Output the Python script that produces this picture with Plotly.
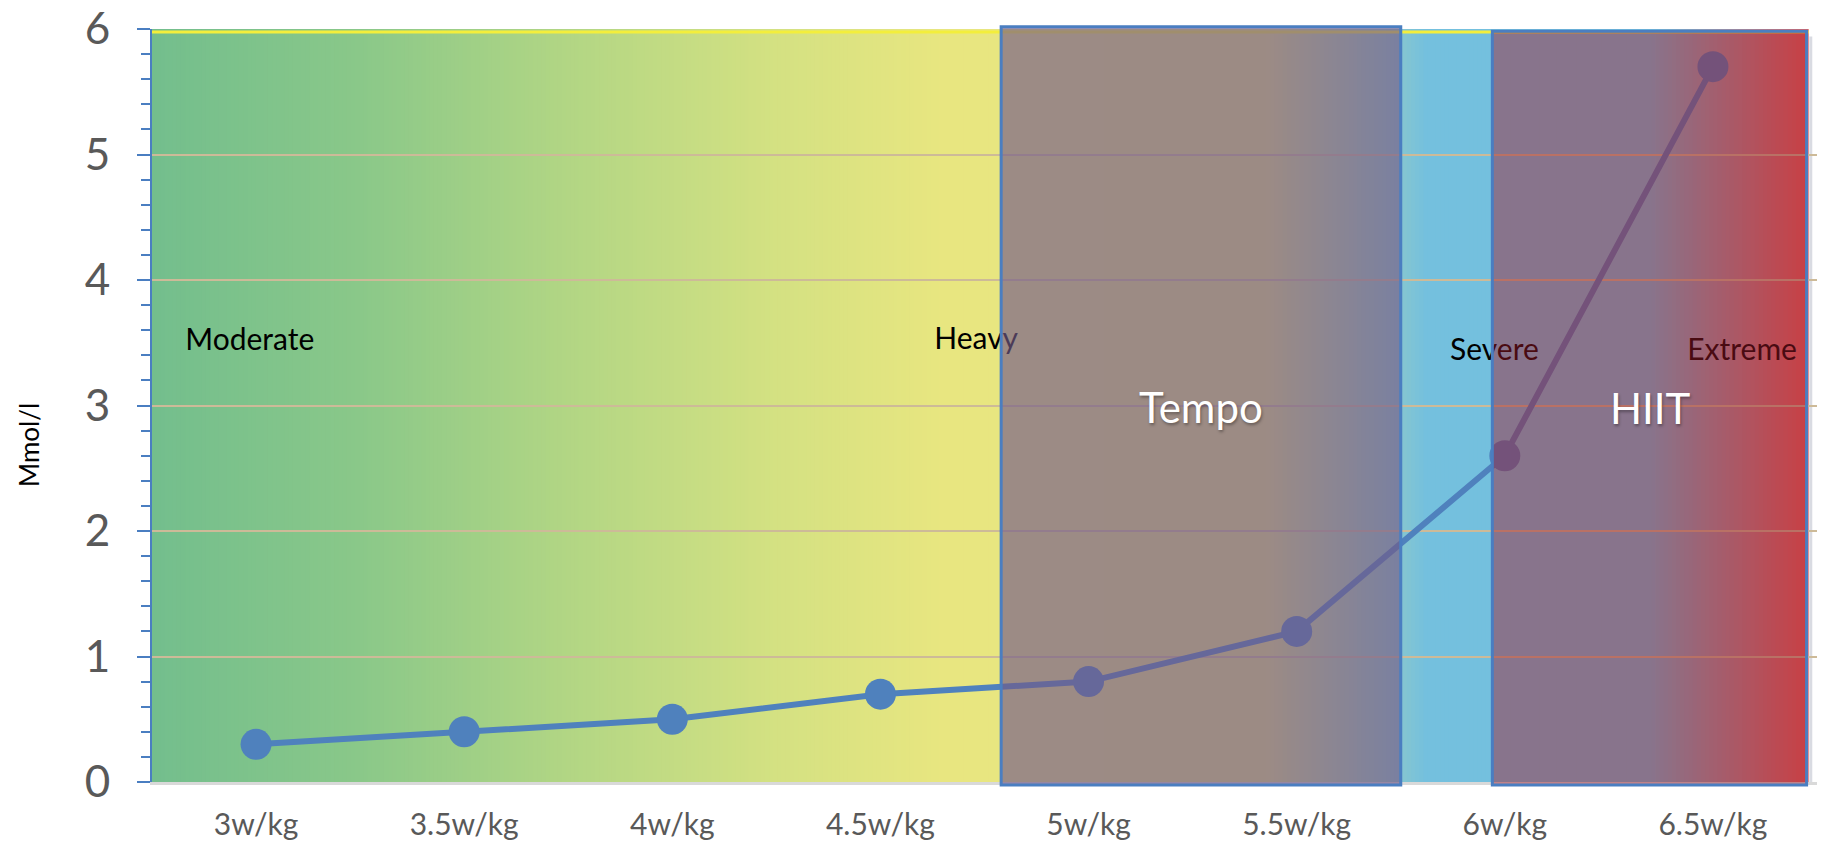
import plotly.graph_objects as go

# ---------------- data ----------------
categories = ["3w/kg", "3.5w/kg", "4w/kg", "4.5w/kg", "5w/kg", "5.5w/kg", "6w/kg", "6.5w/kg"]
lactate = [0.3, 0.4, 0.5, 0.7, 0.8, 1.2, 2.6, 5.7]

zone_names = ["Moderate", "Heavy", "Severe", "Extreme"]
zone_label_x = [-0.03, 3.46, 5.95, 7.14]
zone_label_y = [3.50, 3.51, 3.42, 3.42]

box_names = ["Tempo", "HIIT"]
box_x0 = [3.58, 5.94]
box_x1 = [5.50, 7.45]
box_top = [1.003, 0.997]
box_fill = ["rgba(115,91,135,0.65)", "rgba(161,24,40,0.45)"]
box_label_x = [4.54, 6.70]
box_label_y = [2.99, 2.98]

# background gradient stops (x in category units, rgb)
bg_stops = [(-0.5, (115, 190, 141)), (0.5, (138, 200, 137)), (1.5, (178, 214, 132)),
            (2.5, (212, 225, 130)), (3.3, (232, 230, 128)), (4.85, (233, 230, 127)),
            (5.62, (116, 192, 222)), (6.70, (116, 192, 222)), (7.46, (232, 97, 93))]

FONT = "Lato"
BLUE = "#4A7EC1"


def interp(x):
    for (xa, ca), (xb, cb) in zip(bg_stops[:-1], bg_stops[1:]):
        if xa <= x <= xb:
            t = (x - xa) / (xb - xa)
            return tuple(round(a + (b - a) * t) for a, b in zip(ca, cb))
    return bg_stops[-1][1]


fig = go.Figure()

x_idx = list(range(len(categories)))
fig.add_trace(go.Scatter(
    x=x_idx, y=lactate, mode="lines+markers",
    line=dict(color="#4F81BD", width=6),
    marker=dict(size=31, color="#4F81BD"),
    hoverinfo="skip", showlegend=False, cliponaxis=False))

fig.add_trace(go.Scatter(
    x=zone_label_x, y=zone_label_y, mode="text", text=zone_names,
    textfont=dict(family=FONT, size=30, color="black"),
    hoverinfo="skip", showlegend=False, cliponaxis=False))

shapes = []
x_start, x_end = bg_stops[0][0], bg_stops[-1][0]
N = 400
w = (x_end - x_start) / N
for i in range(N):
    xa = x_start + i * w
    c = interp(xa + w / 2)
    shapes.append(dict(type="rect", xref="x", yref="paper", x0=xa, x1=min(xa + w * 1.6, x_end),
                       y0=0, y1=1, fillcolor="rgb(%d,%d,%d)" % c, line=dict(width=0), layer="below"))
# yellow top rim of background
shapes.append(dict(type="line", xref="x", yref="paper", x0=x_start, x1=x_end, y0=0.996, y1=0.996,
                   line=dict(color="#F3EE3C", width=3), layer="below"))
# light shadow at right edge of background
shapes.append(dict(type="line", xref="x", yref="paper", x0=x_end + 0.01, x1=x_end + 0.01, y0=0, y1=0.99,
                   line=dict(color="rgba(170,175,190,0.45)", width=3), layer="below"))

for x0, x1, top, fill in zip(box_x0, box_x1, box_top, box_fill):
    shapes.append(dict(type="rect", xref="x", yref="paper", x0=x0, x1=x1, y0=-0.004, y1=top,
                       fillcolor=fill, line=dict(color=BLUE, width=3), layer="above"))

annotations = []
for name, lx, ly in zip(box_names, box_label_x, box_label_y):
    annotations.append(dict(x=lx, y=ly, xref="x", yref="y", text=name, showarrow=False,
                            font=dict(family=FONT, size=42, color="white",
                                      shadow="1px 2px 3px rgba(0,0,0,0.35)"),
                            xanchor="center", yanchor="middle"))
annotations.append(dict(x=-0.0739, y=0.4475, xref="paper", yref="paper", text="Mmol/l",
                        showarrow=False, textangle=-90, xanchor="center", yanchor="middle",
                        font=dict(family=FONT, size=26, color="black")))

fig.update_layout(
    width=1821, height=844,
    margin=dict(l=152, r=4, t=29, b=62, autoexpand=False),
    paper_bgcolor="white", plot_bgcolor="white",
    shapes=shapes, annotations=annotations,
    showlegend=False,
    xaxis=dict(range=[-0.5, 7.5], tickmode="array", tickvals=x_idx, ticktext=categories,
               showgrid=False, zeroline=False, showline=True, linecolor="#D9D9D9", linewidth=3,
               ticks="", ticklabelstandoff=14, automargin=False,
               tickfont=dict(family=FONT, size=30, color="#595959")),
    yaxis=dict(range=[0, 6], dtick=1, tick0=0, showgrid=True, gridcolor="rgb(205,186,152)", gridwidth=2,
               zeroline=False, showline=True, linecolor=BLUE, linewidth=2, automargin=False,
               ticks="outside", ticklen=13, tickwidth=2, tickcolor=BLUE, ticklabelstandoff=18,
               tickfont=dict(family=FONT, size=44, color="#595959"),
               minor=dict(dtick=0.2, tick0=0, ticks="outside", ticklen=9, tickwidth=2,
                          tickcolor=BLUE, showgrid=False)),
)

fig.write_html("out.html")
